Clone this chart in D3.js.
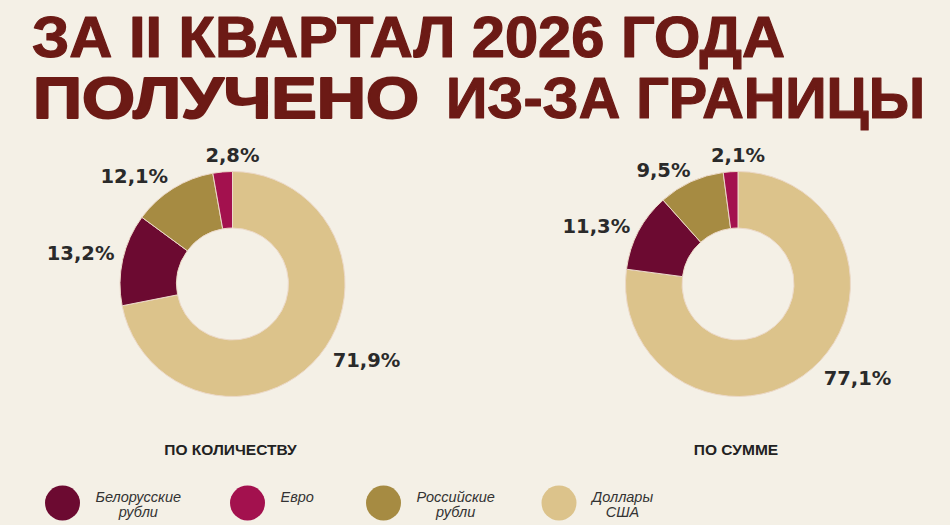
<!DOCTYPE html>
<html><head><meta charset="utf-8">
<script src="https://cdn.jsdelivr.net/npm/d3@7"></script>
<style>
html,body{margin:0;padding:0;background:#f4f0e6;}
svg{display:block;}
</style></head>
<body>
<svg id="chart" width="950" height="525"></svg>
<script>
// ---- data ----
const titleLine1 = "ЗА II КВАРТАЛ 2026 ГОДА";
const titleLine2a = "ПОЛУЧЕНО";
const titleLine2b = "ИЗ-ЗА ГРАНИЦЫ";
const categories = ["Доллары США", "Белорусские рубли", "Российские рубли", "Евро"];
const legendOrder = ["Белорусские рубли", "Евро", "Российские рубли", "Доллары США"];
const legendLines = [["Белорусские", "рубли"], ["Евро"], ["Российские", "рубли"], ["Доллары", "США"]];
const chartTitles = ["ПО КОЛИЧЕСТВУ", "ПО СУММЕ"];
const valuesCount = [71.9, 13.2, 12.1, 2.8];
const valuesSum = [77.1, 11.3, 9.5, 2.1];
const valueLabelsCount = ["71,9%", "13,2%", "12,1%", "2,8%"];
const valueLabelsSum = ["77,1%", "11,3%", "9,5%", "2,1%"];

// ---- styles / layout ----
const colors = {
  "Белорусские рубли": "#6c0a31",
  "Евро": "#a3114e",
  "Российские рубли": "#a68b42",
  "Доллары США": "#dcc38b"
};
const titleColor = "#6c1a15";
const textColor = "#2a2a2a";
const charts = [
  {cx: 232.5, cy: 284, values: valuesCount, labels: valueLabelsCount, title: chartTitles[0],
   labelPos: [[-9.9, 154], [-1.1, 155], [-10.4, 146], [5, 129]]},
  {cx: 738, cy: 284, values: valuesSum, labels: valueLabelsSum, title: chartTitles[1],
   labelPos: [[-10.6, 152], [-5.7, 153], [-8.6, 136], [3.8, 129]]}
];
const outerR = 112.5, innerR = 56;
const legendX = [62.5, 247.5, 383.5, 559];

const svg = d3.select("#chart");
svg.append("rect").attr("width", 950).attr("height", 525).attr("fill", "#f4f0e6");

// ---- title ----
const tFont = "'Liberation Sans', Arial, sans-serif";
function titleText(str, x, y, len, sw) {
  svg.append("text").text(str)
    .attr("x", x).attr("y", y)
    .attr("font-family", tFont).attr("font-weight", "bold").attr("font-size", 57)
    .attr("fill", titleColor).attr("stroke", titleColor).attr("stroke-width", sw)
    .attr("stroke-linejoin", "round")
    .attr("textLength", len).attr("lengthAdjust", "spacingAndGlyphs");
}
titleText(titleLine1, 32, 57, 753, 1.2);
titleText(titleLine2a, 33, 118, 386, 2);
titleText(titleLine2b, 446, 118, 479, 1.2);

// ---- donuts ----
const pie = d3.pie().sort(null).value(d => d.value).startAngle(0).endAngle(2 * Math.PI);
const arc = d3.arc().innerRadius(innerR).outerRadius(outerR);

charts.forEach(ch => {
  const data = categories.map((c, i) => ({cat: c, value: ch.values[i], label: ch.labels[i], lp: ch.labelPos[i]}));
  const arcs = pie(data);
  const g = svg.append("g").attr("transform", `translate(${ch.cx},${ch.cy})`);
  g.selectAll("path").data(arcs).join("path")
    .attr("d", arc)
    .attr("fill", d => colors[d.data.cat])
    .attr("stroke", "#ecd9c8").attr("stroke-width", 1);
  g.selectAll("text.val").data(arcs).join("text")
    .attr("class", "val")
    .each(function(d) {
      const mid = (d.startAngle + d.endAngle) / 2 + d.data.lp[0] * Math.PI / 180;
      const r = d.data.lp[1];
      const la = d3.arc().innerRadius(r).outerRadius(r).startAngle(mid).endAngle(mid);
      const [x, y] = la.centroid();
      d3.select(this).attr("x", x).attr("y", y + 7);
    })
    .attr("text-anchor", "middle")
    .attr("font-family", "'DejaVu Sans', sans-serif").attr("font-weight", "bold").attr("font-size", 19.5)
    .attr("fill", textColor)
    .text(d => d.data.label);
  svg.append("text").text(ch.title)
    .attr("x", ch.cx - 2).attr("y", 455)
    .attr("text-anchor", "middle")
    .attr("font-family", tFont).attr("font-weight", "bold").attr("font-size", 15.5)
    .attr("fill", "#222");
});

// ---- legend ----
legendOrder.forEach((cat, i) => {
  const cx = legendX[i];
  svg.append("circle").attr("cx", cx).attr("cy", 503).attr("r", 17.5).attr("fill", colors[cat]);
  const t = svg.append("text")
    .attr("font-family", tFont).attr("font-style", "italic").attr("font-size", 14.5)
    .attr("fill", "#333").attr("text-anchor", "middle");
  const spans = legendLines[i].map((ln, j) => t.append("tspan").text(ln).attr("y", 502 + j * 15));
  const w = d3.max(spans, s => s.node().getComputedTextLength());
  spans.forEach(s => s.attr("x", cx + 33 + w / 2));
});
</script>
</body></html>
